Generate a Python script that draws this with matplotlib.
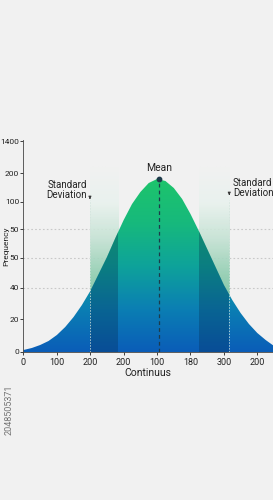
import numpy as np
import matplotlib.pyplot as plt
from matplotlib.colors import LinearSegmentedColormap
from matplotlib.patches import Polygon

plt.rcParams['font.family'] = ['Roboto', 'DejaVu Sans']

# curve heights (x in tick steps, y in axis units)
curve_x = [0.0, 0.25, 0.5, 0.75, 1.0, 1.25, 1.5, 1.75, 2.0, 2.25, 2.5, 2.75, 3.0,
           3.25, 3.5, 3.75, 4.0, 4.25, 4.5, 4.75, 5.0, 5.25, 5.5, 5.75, 6.0, 6.25,
           6.5, 6.75, 7.0, 7.25, 7.5]
curve_y = [2, 4, 7, 11, 17, 25, 35, 47, 61, 78, 95, 114, 132, 148, 160, 169, 173,
           171, 164, 153, 138, 121, 103, 85, 67, 52, 39, 28, 19, 12, 6]

mean_x = 4.05
mean_y = 173
band_left = (1.99, 2.84)
band_right = (5.26, 6.16)
sd_left_x = 1.99
sd_right_x = 6.16

xtick_labels = ['0', '100', '200', '200', '100', '180', '300', '200']
ytick_pos = [0, 33, 64, 94, 123, 150, 179, 211]
ytick_labels = ['0', '20', '40', '50', '50', '100', '200', '1400']
grid_rows = [64, 94, 123]

fig = plt.figure(figsize=(2.73, 5.0), dpi=100)
fig.patch.set_facecolor('#f1f1f1')
ax = fig.add_axes([0.086, 0.296, 0.914, 0.424])
ax.set_facecolor('none')
ax.set_xlim(0, 7.47)
ax.set_ylim(0, 212)

# light dotted grid rows
for g in grid_rows:
    ax.axhline(g, color='#c8c8c8', lw=0.8, ls=(0, (1.5, 2)), zorder=0)

# pale bands above the curve (fade upward)
band_cmap = LinearSegmentedColormap.from_list(
    'band', ['#6fbf9b', '#8fcdb0', '#c4e2d3', '#e9f2ee', '#f1f1f1'])
for lo, hi in (band_left, band_right):
    grad = np.linspace(0, 1, 100).reshape(-1, 1)
    ax.imshow(grad, cmap=band_cmap, aspect='auto', origin='lower',
              extent=[lo, hi, 40, 186], zorder=1, alpha=0.9)

# gradient bell fill
verts = list(zip(curve_x, curve_y)) + [(curve_x[-1], 0), (curve_x[0], 0)]
poly = Polygon(verts, closed=True, facecolor='none', edgecolor='none')
ax.add_patch(poly)
fill_cmap = LinearSegmentedColormap.from_list(
    'bell', ['#0a5db8', '#0b7fb3', '#0ea39a', '#17b97c', '#1dc46c'])
grad = np.linspace(0, 1, 200).reshape(-1, 1)
im = ax.imshow(grad, cmap=fill_cmap, aspect='auto', origin='lower',
               extent=[0, 7.5, 0, 173], zorder=2)
im.set_clip_path(poly)

# darker bands inside the curve
for lo, hi in (band_left, band_right):
    span = ax.axvspan(lo, hi, color='#062a4a', alpha=0.3, lw=0, zorder=3)
    span.set_clip_path(poly)

# standard deviation dotted lines
for sx in (sd_left_x, sd_right_x):
    ax.plot([sx, sx], [0, 152], color='#d3e3dc', lw=0.7, ls=(0, (1.5, 1.5)),
            alpha=0.8, zorder=4)

# mean line and marker
ax.plot([mean_x, mean_x], [0, mean_y], color='#1d3a4a', lw=0.9, ls=(0, (3, 2.5)), zorder=5)
ax.scatter([mean_x], [mean_y], s=10, color='#1d3a4a', zorder=6)
ax.text(mean_x, 179, 'Mean', ha='center', va='bottom', fontsize=7.5, color='#222222')

# annotations
ax.text(1.3, 162, 'Standard\nDeviation', ha='center', va='center', fontsize=7,
        color='#222222', linespacing=1.1)
ax.annotate('', xy=(sd_left_x, 150), xytext=(sd_left_x, 157),
            arrowprops=dict(arrowstyle='-|>', lw=0.6, color='#333333', mutation_scale=4))
ax.text(6.27, 164, 'Standard\nDeviation', ha='left', va='center', fontsize=7,
        color='#222222', linespacing=1.1)
ax.annotate('', xy=(sd_right_x, 154), xytext=(sd_right_x, 161),
            arrowprops=dict(arrowstyle='-|>', lw=0.6, color='#333333', mutation_scale=4))

# axes styling
ax.set_xticks(range(len(xtick_labels)))
ax.set_xticklabels(xtick_labels)
ax.set_yticks(ytick_pos)
ax.set_yticklabels(ytick_labels)
ax.tick_params(labelsize=6.5, colors='#222222', length=2.5, width=0.6, pad=1.5)
ax.tick_params(axis='y', labelsize=6, length=2, pad=1)
for side in ('top', 'right'):
    ax.spines[side].set_visible(False)
for side in ('left', 'bottom'):
    ax.spines[side].set_color('#444444')
    ax.spines[side].set_linewidth(0.6)
ax.set_xlabel('Continuus', fontsize=7.5, color='#222222', labelpad=1)
ax.set_ylabel('Prequency', fontsize=6, color='#222222', labelpad=0)
ax.yaxis.set_label_coords(-0.058, 0.5)

fig.text(0.035, 0.18, '2048505371', rotation=90, fontsize=6.5, color='#555555',
         ha='center', va='center', alpha=0.8)

fig.savefig('out.png', dpi=100, facecolor=fig.get_facecolor())
